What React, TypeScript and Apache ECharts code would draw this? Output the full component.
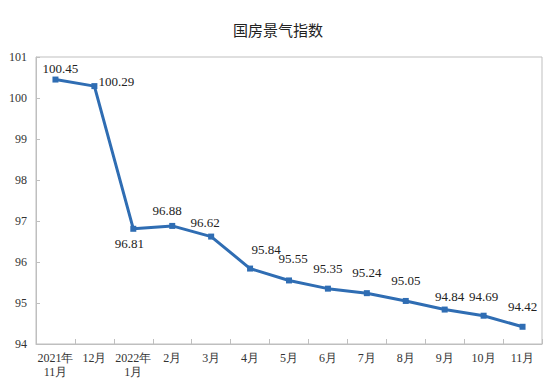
import React, { useEffect, useRef } from "react";
import * as echarts from "echarts";

const title = "国房景气指数";
const categories = [
  "2021年\n11月", "12月", "2022年\n1月", "2月", "3月", "4月", "5月",
  "6月", "7月", "8月", "9月", "10月", "11月",
];
const values = [100.45, 100.29, 96.81, 96.88, 96.62, 95.84, 95.55, 95.35, 95.24, 95.05, 94.84, 94.69, 94.42];
const yTicks = [94, 95, 96, 97, 98, 99, 100, 101];

export default function App() {
  const ref = useRef<HTMLDivElement>(null);
  useEffect(() => {
    if (!ref.current) return;
    document.body.style.margin = "0";
    const chart = echarts.init(ref.current, null, { renderer: "svg" });
    const serif = "'Liberation Serif', 'Times New Roman', serif";
    const labelOverrides: Record<number, any> = {
      0: { position: "top", distance: 2, offset: [5, 0] },
      1: { position: "right", distance: 1, offset: [0, -5] },
      2: { position: "bottom", distance: 5, offset: [-4, 0] },
      3: { position: "top", distance: 6, offset: [-5, 0] },
      4: { position: "top", distance: 5, offset: [-6, 0] },
      5: { position: "top", distance: 10, offset: [16, 0] },
      6: { position: "top", distance: 12, offset: [4, 0] },
      10: { position: "top", distance: 4, offset: [5, 0] },
      11: { position: "top", distance: 10, offset: [0, 0] },
    };
    const data = values.map((v, i) => ({
      value: v,
      label: labelOverrides[i] || { position: "top", distance: 11 },
    }));
    chart.setOption({
      animation: false,
      backgroundColor: "#ffffff",
      title: {
        text: title,
        left: "center",
        top: 17,
        textStyle: {
          fontFamily: "'Noto Sans CJK SC', sans-serif",
          fontSize: 15,
          fontWeight: "normal",
          color: "#222",
        },
      },
      grid: {
        left: 36,
        top: 57,
        width: 506,
        height: 287,
        show: true,
        borderColor: "#bfbfbf",
        borderWidth: 1,
      },
      xAxis: {
        type: "category",
        data: categories,
        boundaryGap: true,
        axisLine: { lineStyle: { color: "#bfbfbf", width: 1 } },
        axisTick: { show: true, inside: true, length: 5, alignWithLabel: false, lineStyle: { color: "#bfbfbf" } },
        axisLabel: {
          fontFamily: serif,
          fontSize: 12,
          color: "#333",
          margin: 7,
          lineHeight: 14,
          interval: 0,
        },
      },
      yAxis: {
        type: "value",
        min: yTicks[0],
        max: yTicks[yTicks.length - 1],
        interval: 1,
        splitLine: { show: false },
        axisLine: { show: true, lineStyle: { color: "#bfbfbf", width: 1 } },
        axisTick: { show: true, inside: true, length: 4, lineStyle: { color: "#bfbfbf" } },
        axisLabel: {
          fontFamily: serif,
          fontSize: 12,
          color: "#333",
          margin: 9,
        },
      },
      series: [
        {
          type: "line",
          data,
          symbol: "rect",
          symbolSize: 6,
          lineStyle: { color: "#2f6db3", width: 3 },
          itemStyle: { color: "#2f6db3" },
          label: {
            show: true,
            fontFamily: serif,
            fontSize: 13,
            color: "#222",
            formatter: (p: any) => p.value.toFixed(2),
          },
        },
      ],
    });
    return () => chart.dispose();
  }, []);
  return <div ref={ref} style={{ width: 556, height: 381 }} />;
}
